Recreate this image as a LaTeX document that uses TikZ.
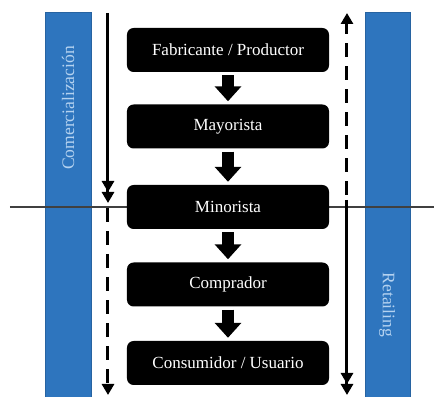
\documentclass[tikz,border=0pt]{standalone}
\usepackage{fontspec}
\setmainfont{Liberation Serif}
\usetikzlibrary{arrows.meta}
\definecolor{barblue}{RGB}{46,117,190}
\definecolor{bartext}{RGB}{180,210,240}

\begin{document}
\begin{tikzpicture}[x=0.03cm,y=-0.03cm,
  etapa/.style={fill=black,rounded corners=0.2cm,minimum width=6.06cm,minimum height=1.32cm,
    text=white,font=\fontsize{14.5}{17}\selectfont},
  barra/.style={fill=barblue,draw=barblue!85!black,line width=0.4pt},
  bartxt/.style={text=bartext,font=\fontsize{15}{18}\selectfont},
  bloque/.style={line width=0.34cm,-{Triangle[width=0.78cm,length=0.45cm]},
    shorten <=0.09cm,shorten >=0.09cm},
  flujo/.style={line width=0.09cm},
  punta/.style={-{Triangle[width=0.36cm,length=0.33cm]}},
  doble/.style={-{Triangle[width=0.36cm,length=0.33cm]Triangle[width=0.36cm,length=0.33cm]}},
  guiones/.style={dash pattern=on 0.42cm off 0.27cm}]
  \useasboundingbox (0,0) rectangle (434,397);
  % barras laterales
  \draw[barra] (45,12) rectangle (91,397);
  \draw[barra] (365,12) rectangle (410,397);
  \node[bartxt,rotate=90] (com) at (68,108) {Comercialización};
  \node[bartxt,rotate=-90] (ret) at (387,305) {Retailing};
  % linea divisoria
  \draw[line width=0.045cm,black!75] (10,207) -- (434,207);
  % etapas
  \node[etapa] (fab) at (228,50) {Fabricante / Productor};
  \node[etapa] (may) at (228,126.5) {Mayorista};
  \node[etapa] (min) at (228,207) {Minorista};
  \node[etapa] (com2) at (228,284.5) {Comprador};
  \node[etapa] (con) at (228,363) {Consumidor / Usuario};
  \draw[bloque] (fab) -- (may);
  \draw[bloque] (may) -- (min);
  \draw[bloque] (min) -- (com2);
  \draw[bloque] (com2) -- (con);
  % flechas laterales
  \coordinate (ls) at (108,13);
  \coordinate (lm) at (108,203);
  \coordinate (lb) at (108,395);
  \coordinate (rs) at (347,13);
  \coordinate (rm) at (347,200);
  \coordinate (rb) at (347,395);
  \draw[flujo,doble] (ls) -- (lm);
  \draw[flujo,guiones,punta,shorten <=0.15cm] (lm) -- (lb);
  \draw[flujo,guiones,punta,shorten <=0.15cm] (rm) -- (rs);
  \draw[flujo,doble] (rm) -- (rb);
\end{tikzpicture}
\end{document}
